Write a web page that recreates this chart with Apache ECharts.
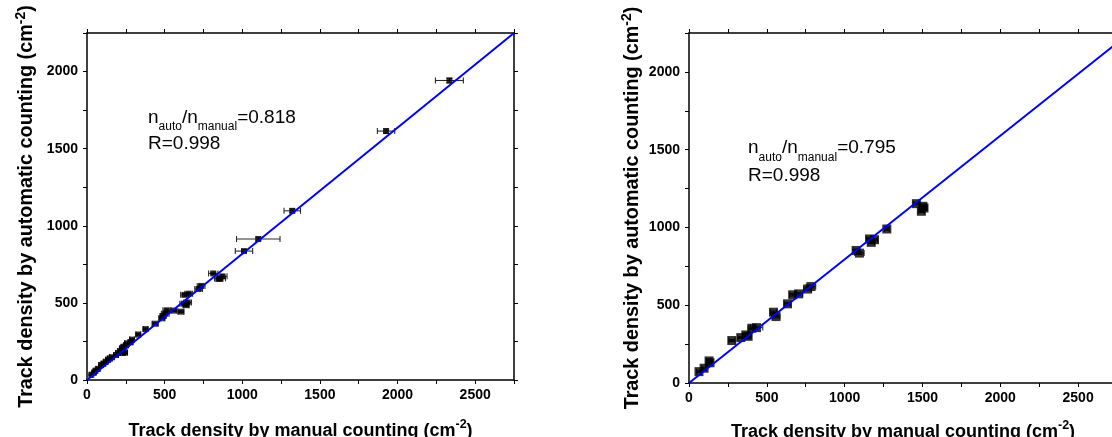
<!DOCTYPE html>
<html><head><meta charset="utf-8">
<script src="https://cdn.jsdelivr.net/npm/echarts@6/dist/echarts.min.js"></script>
<style>html,body{margin:0;padding:0;background:#fff}#c{width:1112px;height:437px}</style>
</head><body><div id="c"></div>
<script>
// ---- DATA ----
// left panel: [manual, automatic, manual error, automatic error]
const leftPoints = [
  [2334,1942,90,15],[1926,1614,56,14],[1322,1097,53,12],[1103,914,140,12],[1011,836,56,10],
  [813,691,30,8],[857,659,35,10],[872,672,30,10],[850,655,25,8],
  [735,610,25,8],[719,590,25,8],[628,552,25,8],[655,560,25,8],
  [648,503,25,8],[623,495,25,8],[638,485,20,8],[605,443,20,6],
  [560,450,20,6],[514,452,25,8],[504,430,25,8],[490,415,20,6],[482,400,20,6],
  [439,365,20,6],[377,330,15,6],[330,295,15,6],[290,262,15,6],[280,245,15,6],
  [258,238,15,6],[250,225,15,6],[235,215,15,6],[225,205,15,6],[213,188,15,6],
  [245,178,15,6],[230,175,15,6],[200,175,15,6],[187,162,15,6],[160,148,15,6],
  [147,140,15,6],[135,132,15,6],[120,118,12,5],[105,106,12,5],[90,97,12,5],
  [70,72,10,5],[55,60,10,5],[45,48,10,5],[28,34,8,4]
];
// right panel: [manual, automatic, manual error, automatic error]
const rightPoints = [
  [64,73,15,6],[97,95,15,6],[129,142,15,6],[135,130,15,6],[275,273,20,6],[333,292,20,6],
  [365,309,20,6],[380,300,20,6],[404,352,25,8],[434,356,40,8],[543,455,20,8],[559,427,25,8],
  [633,509,20,8],[666,567,20,8],[705,573,25,8],[762,604,25,8],[784,620,30,8],
  [1074,852,20,8],[1095,835,30,8],[1160,926,20,8],[1192,921,20,8],[1171,904,20,8],
  [1271,990,15,8],[1461,1153,20,8],[1503,1136,20,8],[1493,1104,20,8],[1510,1125,20,8]
];
const leftFitLine = [[0,0],[2750,2250]];
const rightFitLine = [[0,0],[2750,2186]];
const leftLabels = ['0.818','0.998'];
const rightLabels = ['0.795','0.998'];
const xTitle = 'Track density by manual counting (cm';
const yTitle = 'Track density by automatic counting (cm';
const xMax = 2750, yMax = 2250, tickStep = 250, labelStep = 500;

// ---- CHART ----
const FF = '"Liberation Sans", Arial, sans-serif';
const chart = echarts.init(document.getElementById('c'), null, {renderer:'canvas'});

function titleRich(fs, sfs){ return {
  t:{fontSize:fs,fontWeight:'bold',fontFamily:FF,color:'#000',lineHeight:26,verticalAlign:'middle'},
  s:{fontSize:sfs,fontWeight:'bold',fontFamily:FF,color:'#000',lineHeight:12,verticalAlign:'top'}
};}
const tickLabel = {show:true,fontFamily:FF,fontWeight:'bold',fontSize:14,color:'#000',margin:8,
  formatter:v=> (v % labelStep === 0 ? String(v) : '')};
function baseAxis(extra){
  return Object.assign({
    type:'value', min:0, interval:tickStep,
    axisLine:{show:true,onZero:false,lineStyle:{color:'#000',width:1.5}},
    axisTick:{show:true,inside:false,length:4,lineStyle:{color:'#000',width:1}},
    splitLine:{show:false},
    axisLabel:tickLabel,
    nameMoveOverlap:false
  }, extra);
}
function mirror(a){ a.axisLabel = {show:false}; return a; }

const grids = [
  {left:87, top:33, width:427, height:347, outerBoundsMode:'none', containLabel:false},
  {left:689, top:33, width:428, height:350, outerBoundsMode:'none', containLabel:false}
];
const xAxes = [], yAxes = [];
[0,1].forEach(g=>{
  xAxes.push(baseAxis({gridIndex:g, max:xMax, position:'bottom',
    name:'{t|'+xTitle+'}{s|-2}{t|)}', nameLocation:'middle', nameGap: g===0?38:36,
    nameTextStyle:{rich:titleRich(18,12.5)}}));
  xAxes.push(mirror(baseAxis({gridIndex:g, max:xMax, position:'top'})));
  yAxes.push(baseAxis({gridIndex:g, max:yMax, position:'left',
    axisLabel:Object.assign({}, tickLabel, {margin:9}),
    name:'{t|'+yTitle+'}{s|-2}{t|)}', nameLocation:'middle', nameGap: g===0?47:43, nameRotate:90,
    nameTextStyle:{rich:titleRich(19.8,14)}}));
  yAxes.push(mirror(baseAxis({gridIndex:g, max:yMax, position:'right'})));
});

function errRender(params, api){
  const x=api.value(0), y=api.value(1), ex=api.value(2), ey=api.value(3);
  const l=api.coord([x-ex,y]), r=api.coord([x+ex,y]);
  const t=api.coord([x,y+ey]), b=api.coord([x,y-ey]);
  const cap=3;
  const st={stroke:'#2a2a2a',lineWidth:1.1,fill:null};
  const ln=(x1,y1,x2,y2)=>({type:'line',shape:{x1,y1,x2,y2},style:st});
  return {type:'group',children:[
    ln(l[0],l[1],r[0],r[1]), ln(l[0],l[1]-cap,l[0],l[1]+cap), ln(r[0],r[1]-cap,r[0],r[1]+cap),
    ln(t[0],t[1],b[0],b[1]), ln(t[0]-cap,t[1],t[0]+cap,t[1]), ln(b[0]-cap,b[1],b[0]+cap,b[1])
  ]};
}

const series = [];
[[leftPoints,leftFitLine,6],[rightPoints,rightFitLine,9]].forEach(([pts,fit,size],g)=>{
  series.push({type:'custom', xAxisIndex:2*g, yAxisIndex:2*g, renderItem:errRender,
    data:pts, silent:true, z:2, clip:false});
  series.push({type:'scatter', xAxisIndex:2*g, yAxisIndex:2*g, data:pts.map(p=>[p[0],p[1]]),
    symbol:'rect', symbolSize:size, itemStyle:{color:'#000'}, silent:true, z:3});
  series.push({type:'line', xAxisIndex:2*g, yAxisIndex:2*g, data:fit, showSymbol:false,
    lineStyle:{color:'#0000ff',width:2}, silent:true, z:4, clip:true});
});

// annotations (text)
const ctx = document.createElement('canvas').getContext('2d');
function tw(t,fs){ ctx.font = fs+'px "Liberation Sans"'; return ctx.measureText(t).width; }
function annotation(x0, base1, base2, labels){
  const main=19, sub=12, drop=7, els=[];
  const pieces=[['n',main,0],['auto',sub,drop],['/n',main,0],['manual',sub,drop],['='+labels[0],main,0]];
  let x=x0;
  const mk=(t,fs,xx,base)=>({type:'text', x:xx, y:base-0.35*fs, silent:true,
    style:{text:t, fontSize:fs, fontFamily:FF, fill:'#000', align:'left', verticalAlign:'middle'}});
  pieces.forEach(([t,fs,d])=>{ els.push(mk(t,fs,x,base1+d)); x += tw(t,fs); });
  els.push(mk('R='+labels[1],main,x0,base2));
  return els;
}
const graphic = [].concat(annotation(148,124,150,leftLabels), annotation(748,154.5,182,rightLabels));

chart.setOption({
  animation:false, backgroundColor:'#fff',
  grid:grids, xAxis:xAxes, yAxis:yAxes, series, graphic
});
</script></body></html>
